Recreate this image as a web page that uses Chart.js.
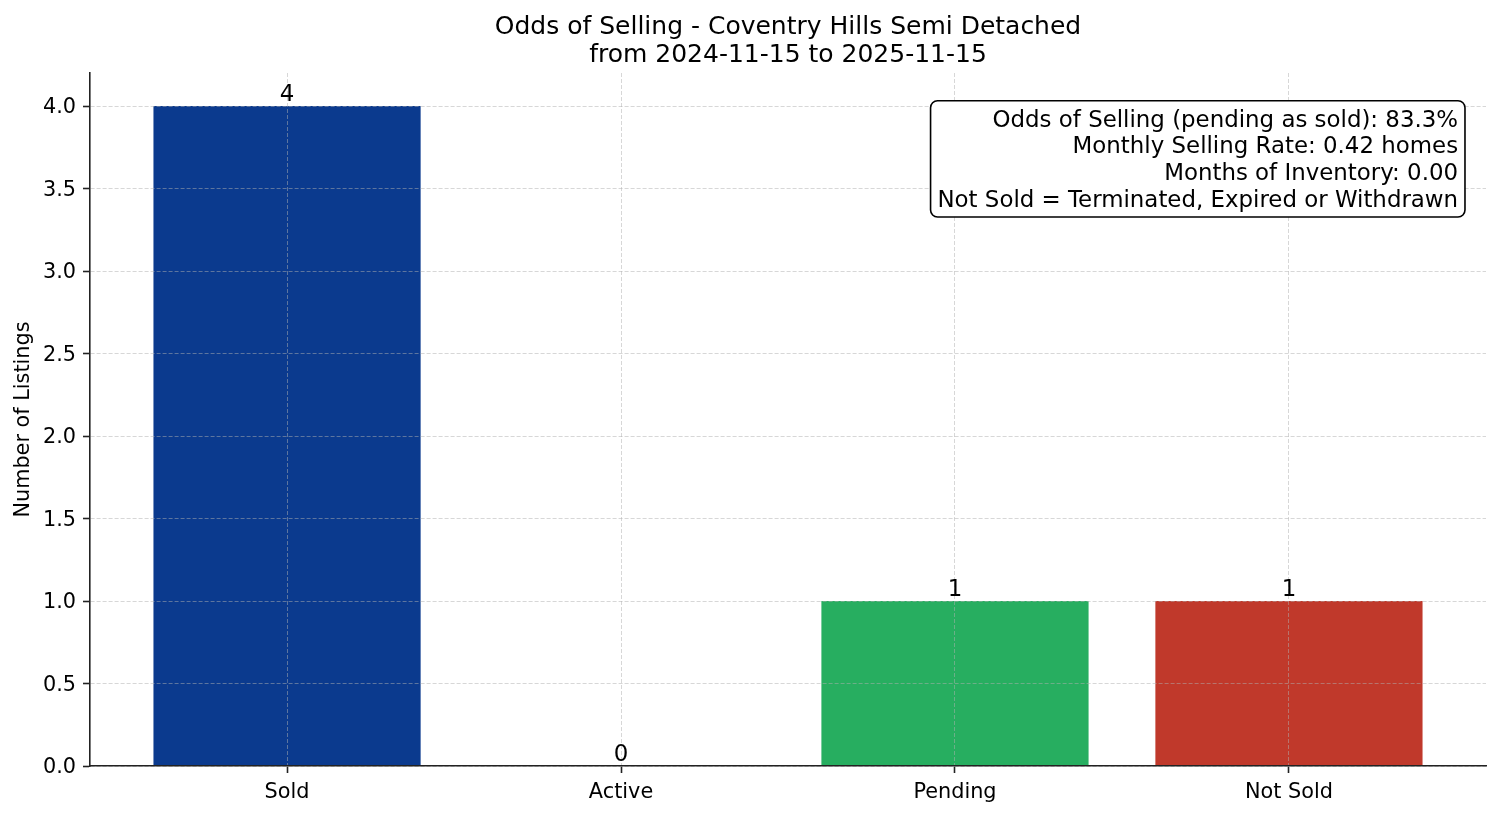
<!DOCTYPE html>
<html>
<head>
<meta charset="utf-8">
<script src="https://cdn.jsdelivr.net/npm/chart.js@4.4.1/dist/chart.umd.min.js"></script>
<style>
  body { margin: 0; background: #fff; }
  canvas { display: block; }
</style>
</head>
<body>
<canvas id="myChart" width="1501" height="816"></canvas>
<script>
const categories = ['Sold', 'Active', 'Pending', 'Not Sold'];
const counts = [4, 0, 1, 1];
const barColors = ['#0b3a8e', '#0b3a8e', '#27ae60', '#c0392b'];
const yTicks = [0, 0.5, 1.0, 1.5, 2.0, 2.5, 3.0, 3.5, 4.0];
const titleLines = ['Odds of Selling - Coventry Hills Semi Detached', 'from 2024-11-15 to 2025-11-15'];
const infoLines = [
    'Odds of Selling (pending as sold): 83.3%',
    'Monthly Selling Rate: 0.42 homes',
    'Months of Inventory: 0.00',
    'Not Sold = Terminated, Expired or Withdrawn'
];

Chart.defaults.font.family = "'DejaVu Sans', sans-serif";
Chart.defaults.color = '#000';

// title, bar value labels and stats box, drawn last so they sit on top of the grid
const overlayPlugin = {
    id: 'overlay',
    afterDraw(chart) {
        const ctx = chart.ctx;
        const area = chart.chartArea;
        const meta = chart.getDatasetMeta(0);
        const w = area.right - area.left;
        const h = area.bottom - area.top;

        ctx.save();
        ctx.fillStyle = '#000';

        // title centred over the axes
        ctx.font = '25px "DejaVu Sans"';
        ctx.textAlign = 'center';
        ctx.textBaseline = 'middle';
        titleLines.forEach((t, i) => {
            ctx.fillText(t, area.left + w / 2, 27 + i * 28);
        });

        ctx.font = '22.9px "DejaVu Sans"';
        ctx.textBaseline = 'alphabetic';
        meta.data.forEach((bar, i) => {
            ctx.fillText(String(counts[i]), bar.x, bar.y - 5);
        });

        // text box in axes fraction (0.98, 0.95), right / top aligned
        const xr = area.left + 0.98 * w;
        const yt = area.top + 0.05 * h;
        const lineStep = 26.8;
        const pad = 6.9;
        let maxW = 0;
        infoLines.forEach(l => { maxW = Math.max(maxW, ctx.measureText(l).width); });
        ctx.beginPath();
        ctx.roundRect(xr - maxW - pad, yt - pad, maxW + pad * 2, 102.5 + pad * 2, 7);
        ctx.fillStyle = '#fff';
        ctx.fill();
        ctx.lineWidth = 1.6;
        ctx.strokeStyle = '#000';
        ctx.stroke();

        ctx.fillStyle = '#000';
        ctx.textAlign = 'right';
        ctx.textBaseline = 'middle';
        infoLines.forEach((l, i) => {
            ctx.fillText(l, xr, yt + 13 + i * lineStep);
        });
        ctx.restore();
    }
};

const gridOpts = {
    color: 'rgba(176,176,176,0.5)',
    lineWidth: 1,
    offset: false,
    z: 1,
    tickLength: 7,
    tickColor: '#222',
    tickWidth: 1.6,
    tickBorderDash: []
};

const ctx = document.getElementById('myChart').getContext('2d');
new Chart(ctx, {
    type: 'bar',
    data: {
        datasets: [{
            data: counts.map((v, i) => ({ x: i, y: v })),
            backgroundColor: barColors,
            borderWidth: 0,
            barPercentage: 0.8,
            categoryPercentage: 1.0
        }]
    },
    options: {
        responsive: false,
        animation: false,
        devicePixelRatio: 1,
        layout: { padding: { left: 0, right: 15, top: 73, bottom: 0 } },
        plugins: {
            legend: { display: false },
            tooltip: { enabled: false },
            title: { display: false }
        },
        scales: {
            x: {
                type: 'linear',
                min: -0.59,
                max: 3.59,
                offset: false,
                afterBuildTicks: scale => { scale.ticks = categories.map((c, i) => ({ value: i })); },
                afterFit: scale => { scale.height = 50; },
                ticks: {
                    color: '#000',
                    font: { size: 20.8 },
                    padding: 7,
                    maxRotation: 0,
                    autoSkip: false,
                    callback: v => categories[v]
                },
                grid: gridOpts,
                border: { display: true, color: '#222', width: 1.6, dash: [4, 2], z: 2 }
            },
            y: {
                min: 0,
                max: 4.2,
                afterBuildTicks: scale => { scale.ticks = yTicks.map(v => ({ value: v })); },
                afterFit: scale => { scale.width = 90; },
                ticks: {
                    color: '#000',
                    font: { size: 20.8 },
                    padding: 7,
                    labelOffset: 2,
                    callback: v => v.toFixed(1)
                },
                grid: gridOpts,
                border: { display: true, color: '#222', width: 1.6, dash: [4, 2], z: 2 },
                title: {
                    display: true,
                    text: 'Number of Listings',
                    color: '#000',
                    font: { size: 20.8 },
                    padding: { top: 11, bottom: 0 }
                }
            }
        }
    },
    plugins: [overlayPlugin]
});
</script>
</body>
</html>
